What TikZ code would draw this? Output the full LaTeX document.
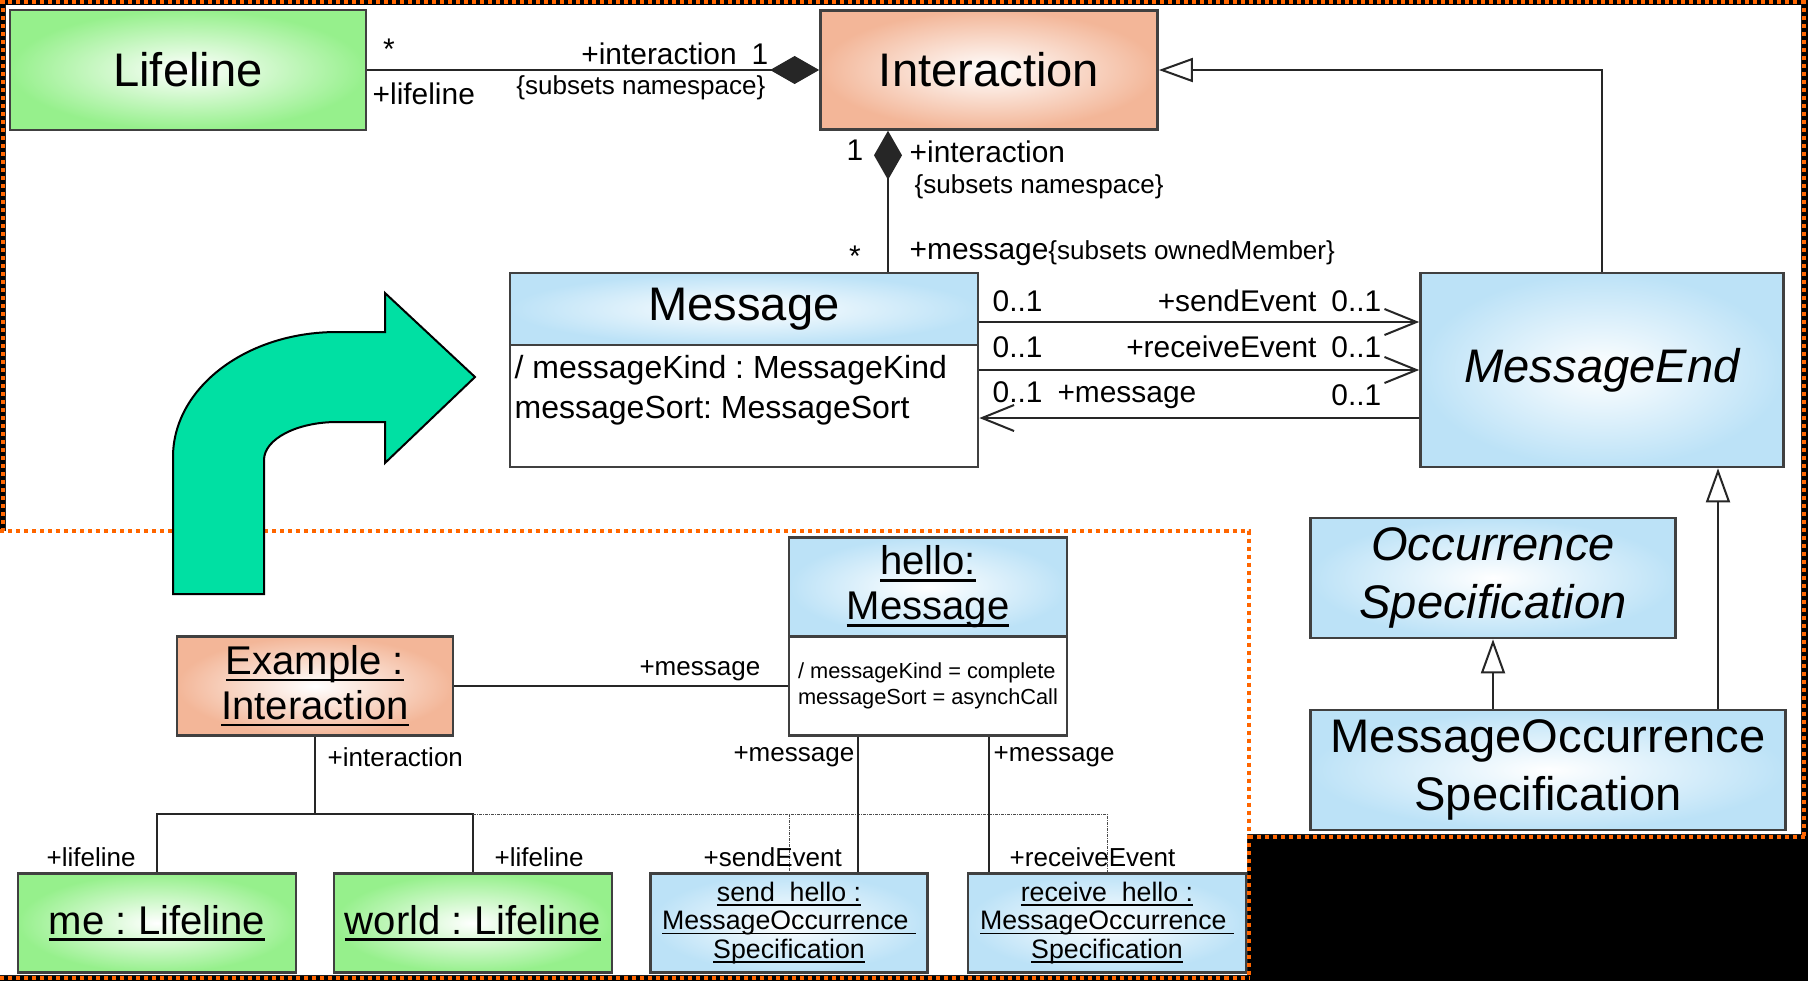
\documentclass[tikz,border=0pt]{standalone}
\usepackage{fontspec}
\setmainfont{Liberation Sans}
\usetikzlibrary{arrows.meta}
\frenchspacing
\newcommand{\uln}[1]{\leavevmode\setbox0=\hbox{#1}\rlap{\rule[-0.17em]{\wd0}{0.07em}}\box0}
\definecolor{lgreen}{RGB}{150,240,140}
\definecolor{salmon}{RGB}{243,182,152}
\definecolor{lblue}{RGB}{188,226,247}
\definecolor{arrowgreen}{RGB}{0,224,163}
\definecolor{dotorange}{RGB}{255,102,0}
\begin{document}
\begin{tikzpicture}[x=0.01cm, y=-0.01cm,
	box/.style={draw=black!75, line width=0.025cm, inner sep=0pt},
	greenbox/.style={box, inner color=white, outer color=lgreen},
	salmonbox/.style={box, inner color=white, outer color=salmon},
	bluebox/.style={box, inner color=white, outer color=lblue},
	namefont/.style={font=\fontsize{13.4pt}{16.6pt}\selectfont},
	objfont/.style={font=\fontsize{11.4pt}{12.8pt}\selectfont},
	attrfont/.style={font=\fontsize{9.1pt}{11.4pt}\selectfont},
	rolefont/.style={font=\fontsize{8.5pt}{10pt}\selectfont},
	subfont/.style={font=\fontsize{7.4pt}{9pt}\selectfont},
	evfont/.style={font=\fontsize{7.6pt}{8.1pt}\selectfont},
	valfont/.style={font=\fontsize{6.2pt}{7.4pt}\selectfont},
	lbl/.style={inner sep=0pt},
	assoc/.style={draw=black!85, line width=0.02cm},
	comp/.style={assoc, -{Diamond[length=0.49cm, width=0.28cm]}},
	gen/.style={assoc, -{Triangle[length=0.34cm, width=0.24cm, fill=white]}},
	nav/.style={assoc, -{Straight Barb[length=0.32cm, width=0.26cm]}},
	link/.style={draw=black!85, line width=0.015cm},
	dotlink/.style={draw=black!70, line width=0.01cm, dash pattern=on 0.03cm off 0.01cm on 0.01cm off 0.01cm},
	orangedots/.style={draw=dotorange, line width=0.04cm, dash pattern=on 0.04cm off 0.04cm}
]
	\useasboundingbox (0,0) rectangle (1808,981);
	\fill[black] (0,0) rectangle (1808,981);
	\fill[white] (6,5) -- (1801,5) -- (1801,834) -- (1247,834) -- (1247,975) -- (0,975) -- (0,531) -- (6,531) -- cycle;
	\draw[orangedots] (0,2) -- (1808,2);
	\draw[orangedots] (3,0) -- (3,531);
	\draw[orangedots] (1804,0) -- (1804,837);
	\draw[orangedots] (0,531) -- (1249,531) -- (1249,978);
	\draw[orangedots] (1249,837) -- (1808,837);
	\draw[orangedots] (0,978) -- (1249,978);

	\node[greenbox, namefont, minimum width=3.56cm, minimum height=1.2cm] (lifeline) at (188,70) {Lifeline};
	\node[salmonbox, namefont, minimum width=3.37cm, minimum height=1.19cm] (interaction) at (989,70) {Interaction};
	\node[bluebox, namefont, minimum width=4.68cm, minimum height=0.72cm] (msghead) at (744,309) {Message};
	\node[box, fill=white, minimum width=4.68cm, minimum height=1.22cm] (msgbody) at (744,406) {};
	\node[lbl, attrfont, anchor=west, align=left] (msgattr) at (514,390) {/ messageKind : MessageKind\\messageSort: MessageSort};
	\node[bluebox, namefont, minimum width=3.63cm, minimum height=1.94cm] (msgend) at (1602,370) {\itshape MessageEnd};
	\node[bluebox, namefont, minimum width=3.65cm, minimum height=1.2cm, align=center] (occspec) at (1493,578) {\itshape Occurrence\\\itshape Specification};
	\node[bluebox, namefont, minimum width=4.75cm, minimum height=1.2cm, align=center] (mos) at (1548,770) {MessageOccurrence\\Specification};

	\coordinate (cx) at (888,0);
	\coordinate (gx) at (1718,0);
	\coordinate (r1) at (0,322);
	\coordinate (r2) at (0,370);
	\coordinate (r3) at (0,418);
	\draw[comp] (lifeline.east) -- (interaction.west);
	\draw[comp] (msghead.north -| cx) -- (interaction.south -| cx);
	\draw[gen] (msgend.north) |- (interaction.east);
	\draw[nav] (msghead.east |- r1) -- (msgend.west |- r1);
	\draw[nav] (msgbody.east |- r2) -- (msgend.west |- r2);
	\draw[nav] (msgend.west |- r3) -- (msgbody.east |- r3);
	\draw[gen] (mos.north -| gx) -- (msgend.south -| gx);
	\draw[gen] (mos.north -| occspec.south) -- (occspec.south);

	\node[lbl, rolefont] (lmany) at (389,49) {*};
	\node[lbl, rolefont, anchor=east] (linter) at (769,54) {+interaction\enspace 1};
	\node[lbl, subfont, anchor=east] (lsub) at (766,88) {\{subsets namespace\}};
	\node[lbl, rolefont, anchor=west] (llife) at (372,94) {+lifeline};
	\node[lbl, rolefont] (lone) at (855,150) {1};
	\node[lbl, rolefont, anchor=west] (linter2) at (909,152) {+interaction};
	\node[lbl, subfont, anchor=west] (lsub2) at (914,187) {\{subsets namespace\}};
	\node[lbl, rolefont] (lmany2) at (855,256) {*};
	\node[lbl, rolefont, anchor=west] (lmsg) at (909,253) {+message{\fontsize{7.4pt}{9pt}\selectfont\{subsets ownedMember\}}};
	\node[lbl, rolefont, anchor=west] (lsend1) at (992,301) {0..1};
	\node[lbl, rolefont, anchor=east] (lsend2) at (1382,301) {+sendEvent\enspace 0..1};
	\node[lbl, rolefont, anchor=west] (lrecv1) at (992,347) {0..1};
	\node[lbl, rolefont, anchor=east] (lrecv2) at (1382,347) {+receiveEvent\enspace 0..1};
	\node[lbl, rolefont, anchor=west] (lback1) at (992,395) {0..1\enspace +message};
	\node[lbl, rolefont, anchor=east] (lback2) at (1382,395) {0..1};

	\filldraw[fill=arrowgreen, draw=black, line width=0.02cm] (173,594) -- (173,457) .. controls (173,388) and (246,332) .. (337,332) -- (385,332) -- (385,293) -- (475,377) -- (385,463) -- (385,422) -- (337,422) .. controls (297,422) and (264,439) .. (264,460) -- (264,594) -- cycle;

	\node[salmonbox, objfont, minimum width=2.76cm, minimum height=0.99cm, align=center] (example) at (315,686) {\uln{Example :}\\\uln{Interaction}};
	\node[bluebox, objfont, minimum width=2.78cm, minimum height=0.99cm, align=center] (hellohead) at (928,587) {\uln{hello:}\\\uln{Message}};
	\node[box, fill=white, valfont, minimum width=2.78cm, minimum height=0.99cm, align=left] (hellobody) at (928,686) {/ messageKind = complete\\messageSort = asynchCall};
	\node[greenbox, objfont, minimum width=2.78cm, minimum height=0.99cm] (me) at (157,923) {\uln{me : Lifeline}};
	\node[greenbox, objfont, minimum width=2.78cm, minimum height=0.99cm] (world) at (473,923) {\uln{world : Lifeline}};
	\node[bluebox, evfont, minimum width=2.77cm, minimum height=0.99cm, align=center] (sendev) at (789,923) {\uln{send\ \ hello :}\\\uln{MessageOccurrence\ }\\\uln{Specification}};
	\node[bluebox, evfont, minimum width=2.78cm, minimum height=0.99cm, align=center] (recvev) at (1107,923) {\uln{receive\ \ hello :}\\\uln{MessageOccurrence\ }\\\uln{Specification}};

	\coordinate (tj) at (315,814);
	\coordinate (sx) at (858,0);
	\coordinate (rx) at (989,0);
	\draw[link] (example.east) -- (hellobody.west);
	\draw[link] (example.south) -- (tj);
	\draw[link] (me.north) -- (me.north |- tj) -- (world.north |- tj) -- (world.north);
	\draw[dotlink] (world.north |- tj) -- (recvev.north |- tj) -- (recvev.north);
	\draw[dotlink] (sendev.north |- tj) -- (sendev.north);
	\draw[link] (hellobody.south -| sx) -- (sendev.north -| sx);
	\draw[link] (hellobody.south -| rx) -- (recvev.north -| rx);

	\node[lbl, subfont, anchor=east] (lhello) at (761,671) {+message};
	\node[lbl, subfont, anchor=west] (linter3) at (327,757) {+interaction};
	\node[lbl, subfont, anchor=east] (lmsg2) at (855,757) {+message};
	\node[lbl, subfont, anchor=west] (lmsg3) at (993,757) {+message};
	\node[lbl, subfont, anchor=west] (llife2) at (46,857) {+lifeline};
	\node[lbl, subfont, anchor=west] (llife3) at (494,857) {+lifeline};
	\node[lbl, subfont, anchor=west] (lsend) at (703,857) {+sendEvent};
	\node[lbl, subfont, anchor=west] (lrecv) at (1009,857) {+receiveEvent};
\end{tikzpicture}
\end{document}
